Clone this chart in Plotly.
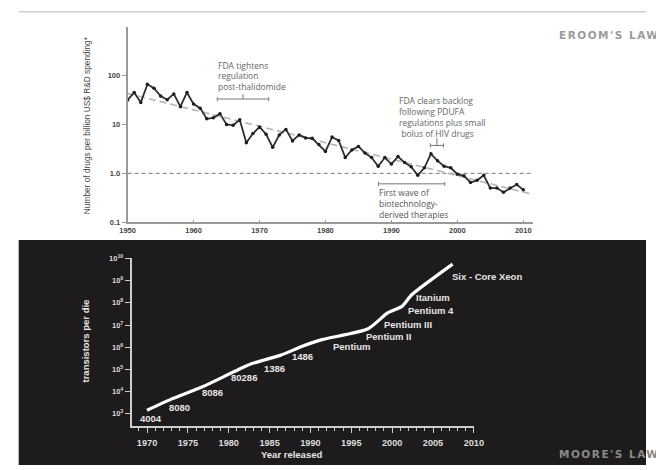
import math
import plotly.graph_objects as go

W, H = 656, 470


def px(x):
    return x / W


def py(y):
    return 1 - y / H


# ---------------- Eroom's law data ----------------
eroom_years = list(range(1950, 2011))
eroom_values = [
    31.6, 45, 28, 66, 55, 38, 32, 42, 23, 45,
    26, 21.5, 13, 13.6, 16.6, 10, 9.6, 12.4, 4.2, 6.5,
    8.9, 6.3, 3.4, 6.1, 7.9, 4.6, 6.1, 5.3, 5.2, 3.9,
    2.8, 5.5, 4.7, 2.1, 3.0, 3.55, 2.6, 2.1, 1.4, 2.1,
    1.55, 2.2, 1.66, 1.36, 0.91, 1.3, 2.5, 1.8, 1.4, 1.3,
    0.96, 0.89, 0.65, 0.72, 0.91, 0.50, 0.50, 0.41, 0.50, 0.59,
    0.46,
]
trend_years = [1950, 2011.5]
trend_values = [43, 0.37]
ref_years = [1950, 2011.5]
ref_values = [1.0, 1.0]
eroom_ytick_vals = [0.1, 1, 10, 100]
eroom_ytick_text = ["0.1", "1.0", "10", "100"]
eroom_xtick_vals = [1950, 1960, 1970, 1980, 1990, 2000, 2010]

# brackets (x-start, x-end, y-level, centre-tick x, centre-tick tip y)
bracket_thalidomide = dict(x0=1963.6, x1=1971.4, y=33, cx=1967.5, cy=41.5)
bracket_pdufa = dict(x0=1995.9, x1=1997.9, y=3.72, cx=1996.9, cy=5.2)
bracket_biotech = dict(x0=1988.05, x1=1998.1, y=0.61, cx=None, cy=None)

# ---------------- Moore's law data ----------------
moore_years = [1970, 1972.9, 1976.8, 1982.7, 1986.3, 1989.0, 1991.4,
               1997.0, 1999.4, 2001.2, 2002.4, 2007.4]
moore_transistors = [1.45e3, 4.5e3, 1.66e4, 1.74e5, 4.3e5, 1.1e6, 2.2e6,
                     6.6e6, 3.4e7, 6.9e7, 2.3e8, 5.5e9]
moore_ytick_vals = [1e3, 1e4, 1e5, 1e6, 1e7, 1e8, 1e9, 1e10]
moore_ytick_text = ["10<sup>%d</sup>" % e for e in range(3, 11)]
moore_xtick_vals = [1970, 1975, 1980, 1985, 1990, 1995, 2000, 2005, 2010]

chip_names = ["4004", "8080", "8086", "80286", "1386", "1486", "Pentium",
              "Pentium II", "Pentium III", "Pentium 4", "Itanium",
              "Six - Core Xeon"]
chip_label_years = [1970.5, 1974.0, 1978.0, 1981.9, 1985.6, 1989.0, 1995.0,
                    1999.6, 2001.9, 2004.8, 2005.0, 2007.1]
chip_label_counts = [5.9e2, 2.0e3, 9.1e3, 4.2e4, 1.05e5, 3.9e5, 1.07e6,
                     2.95e6, 1.1e7, 4.6e7, 1.74e8, 1.6e9]
chip_anchor = ["center"] * 11 + ["left"]

# annotation text blocks
note_thalidomide = ["FDA tightens", "regulation", "post-thalidomide"]
note_pdufa = ["FDA clears backlog", "following PDUFA",
              "regulations plus small", "\u00a0bolus of HIV drugs"]
note_biotech = ["First wave of", "biotechnology-", "derived therapies"]

fig = go.Figure()

# ---------- top panel traces ----------
fig.add_trace(go.Scatter(x=ref_years, y=ref_values, mode="lines",
                         line=dict(color="#777", width=1, dash="4px,3px"),
                         xaxis="x", yaxis="y", hoverinfo="skip"))
fig.add_trace(go.Scatter(x=trend_years, y=trend_values, mode="lines",
                         line=dict(color="#b5b5b5", width=1.6, dash="7px,4px"),
                         xaxis="x", yaxis="y", hoverinfo="skip"))
fig.add_trace(go.Scatter(x=eroom_years, y=eroom_values, mode="lines+markers",
                         line=dict(color="#2e2e2e", width=1.8),
                         marker=dict(color="#1e1e1e", size=3.5),
                         xaxis="x", yaxis="y"))


def bracket_xy(b):
    f = 1.1
    xs = [b["x0"], b["x1"], None,
          b["x0"], b["x0"], None,
          b["x1"], b["x1"]]
    ys = [b["y"], b["y"], None,
          b["y"] * f, b["y"] / f, None,
          b["y"] * f, b["y"] / f]
    if b["cx"] is not None:
        xs += [None, b["cx"], b["cx"]]
        ys += [None, b["y"], b["cy"]]
    return xs, ys


for b in (bracket_thalidomide, bracket_pdufa, bracket_biotech):
    bx, by = bracket_xy(b)
    fig.add_trace(go.Scatter(x=bx, y=by, mode="lines",
                             line=dict(color="#777", width=1),
                             xaxis="x", yaxis="y", hoverinfo="skip"))

# ---------- bottom panel traces ----------
fig.add_trace(go.Scatter(x=moore_years, y=moore_transistors, mode="lines",
                         line=dict(color="#ffffff", width=3.2,
                                   shape="spline", smoothing=0.6),
                         xaxis="x2", yaxis="y2"))

annotations = []
for name, yr, cnt, anc in zip(chip_names, chip_label_years,
                              chip_label_counts, chip_anchor):
    annotations.append(dict(x=yr, y=math.log10(cnt), xref="x2", yref="y2",
                            text=name, showarrow=False, xanchor=anc,
                            yanchor="middle",
                            font=dict(family="Liberation Sans", size=9.5,
                                      color="#e6e6e6", weight="bold")))


def add_block(lines, left, centres, font):
    for ln, cy in zip(lines, centres):
        annotations.append(dict(x=px(left), y=py(cy), xref="paper",
                                yref="paper", xanchor="left",
                                yanchor="middle", showarrow=False,
                                font=font, text=ln))


txt_font = dict(family="Open Sans", size=8.5, color="#666")
add_block(note_thalidomide, 214, [62, 72.5, 83], txt_font)
add_block(note_pdufa, 400, [98, 109, 120, 131], txt_font)
annotations.append(dict(x=px(379), y=py(203), xref="paper", yref="paper",
                        xanchor="left", yanchor="middle", align="left",
                        showarrow=False,
                        font=dict(family="Open Sans", size=8.5, color="#555"),
                        text="<br>".join(note_biotech)))

annotations += [
    dict(x=px(82), y=py(123), xref="paper", yref="paper", textangle=-90,
         showarrow=False, xanchor="center", yanchor="middle",
         font=dict(family="Liberation Sans", size=8.3, color="#444"),
         text="Number of drugs per billion US$ R&D spending*"),
    dict(x=px(80), y=py(343), xref="paper", yref="paper", textangle=-90,
         showarrow=False, xanchor="center", yanchor="middle",
         font=dict(family="Liberation Sans", size=9.5, color="#e6e6e6",
                   weight="bold"),
         text="transistors per die"),
    dict(x=px(325), y=py(459), xref="paper", yref="paper",
         showarrow=False, xanchor="right", yanchor="middle",
         font=dict(family="Liberation Sans", size=9.5, color="#e6e6e6",
                   weight="bold"),
         text="Year released"),
    dict(x=px(565), y=py(31), xref="paper", yref="paper",
         showarrow=False, xanchor="left", yanchor="middle",
         font=dict(family="DejaVu Sans", size=10.5, color="#9a9a9a",
                   weight="bold"),
         text="<span style='letter-spacing:1.5px'>EROOM'S LAW</span>"),
    dict(x=px(565), y=py(459), xref="paper", yref="paper",
         showarrow=False, xanchor="left", yanchor="middle",
         font=dict(family="DejaVu Sans", size=10.5, color="#8a8a8a",
                   weight="bold"),
         text="<span style='letter-spacing:1.5px'>MOORE'S LAW</span>"),
]

shapes = [
    dict(type="rect", xref="paper", yref="paper", x0=px(11), x1=1.0,
         y0=0, y1=py(240), fillcolor="#1d1b1c", line=dict(width=0),
         layer="below"),
    dict(type="line", xref="paper", yref="paper", x0=px(11), x1=1.0,
         y0=py(7), y1=py(7), line=dict(color="#cfcfcf", width=1.5),
         layer="below"),
]

tick_font_top = dict(family="Liberation Sans", size=7.5, color="#444",
                     weight="bold")
tick_font_bot = dict(family="Liberation Sans", size=9.2, color="#dcdcdc",
                     weight="bold")

fig.update_layout(
    width=W, height=H,
    margin=dict(l=0, r=0, t=0, b=0),
    paper_bgcolor="white",
    plot_bgcolor="rgba(0,0,0,0)",
    showlegend=False,
    annotations=annotations,
    shapes=shapes,
    xaxis=dict(domain=[px(123), px(540)], range=[1950, 2011.5],
               anchor="y", tickvals=eroom_xtick_vals, ticks="inside",
               ticklen=3, tickcolor="#999", showline=True,
               linecolor="#999", linewidth=1.5, showgrid=False,
               zeroline=False, tickfont=tick_font_top),
    yaxis=dict(domain=[py(222), py(22)], type="log", range=[-1, 3],
               anchor="x", tickvals=eroom_ytick_vals,
               ticktext=eroom_ytick_text, ticks="outside", ticklen=4,
               tickcolor="#999", showline=True, linecolor="#999",
               linewidth=1.8, showgrid=False, zeroline=False,
               tickfont=tick_font_top),
    xaxis2=dict(domain=[px(127), px(479)], range=[1968.1, 2010.0],
                anchor="y2", tickvals=moore_xtick_vals, ticks="outside",
                ticklen=5, tickcolor="#cccccc", showline=True,
                linecolor="#cccccc", linewidth=1.5, showgrid=False,
                zeroline=False, tickfont=tick_font_bot,
                ticklabelstandoff=2,
                minor=dict(dtick=1, tick0=1970, ticks="outside", ticklen=3,
                           tickcolor="#cccccc", showgrid=False)),
    yaxis2=dict(domain=[py(430), py(258)], type="log", range=[2.46, 10.04],
                anchor="x2", tickvals=moore_ytick_vals,
                ticktext=moore_ytick_text, ticks="outside", ticklen=5,
                tickcolor="#cccccc", showline=True, linecolor="#cccccc",
                linewidth=1.5, showgrid=False, zeroline=False,
                tickfont=dict(family="Liberation Sans", size=7.5,
                              color="#dcdcdc", weight="bold")),
)

fig.write_html("out.html")
